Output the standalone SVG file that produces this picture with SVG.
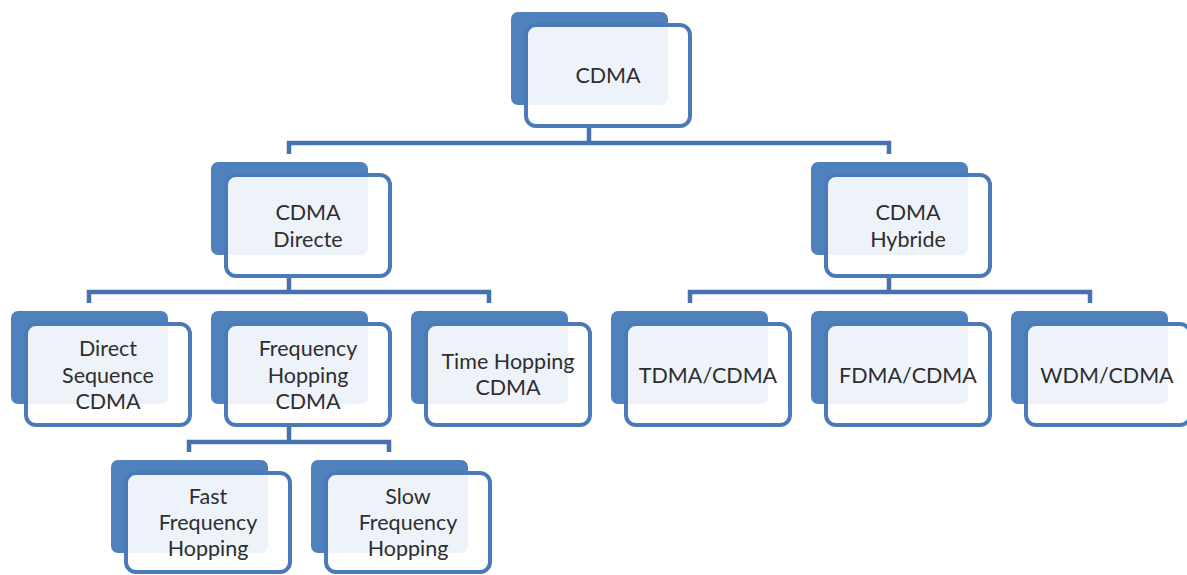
<svg xmlns="http://www.w3.org/2000/svg" width="1187" height="575" viewBox="0 0 1187 575">
<style>
.back{fill:#4F81BD}
.front{fill:#FFFFFF;fill-opacity:0.9;stroke:#4A7BB8;stroke-width:4}
.conn{fill:none;stroke:#4672B0;stroke-width:4.5;stroke-linejoin:miter}
text{font-family:Lato,"Open Sans","Liberation Sans",sans-serif;font-size:21.5px;fill:#2E2E2E;text-anchor:middle}
</style>
<rect width="1187" height="575" fill="#FFFFFF"/>
<g id="connectors">
<path class="conn" d="M289,154 V143 H889 V154 M589,127 V143"/>
<path class="conn" d="M89,303 V292 H489 V303 M289,277 V292"/>
<path class="conn" d="M690,303 V292 H1090 V303 M889,277 V292"/>
<path class="conn" d="M189,452 V442 H389 V452 M289,426 V442"/>
</g>
<g id="node-cdma">
<rect class="back" x="511" y="12" width="157" height="93" rx="7"/>
<rect class="front" x="526" y="25" width="164" height="101" rx="10"/>
<text x="608" y="83">CDMA</text>
</g>
<g id="node-directe">
<rect class="back" x="211" y="162" width="157" height="93" rx="7"/>
<rect class="front" x="226" y="175" width="164" height="101" rx="10"/>
<text x="308" y="220">CDMA</text>
<text x="308" y="247">Directe</text>
</g>
<g id="node-hybride">
<rect class="back" x="811" y="162" width="157" height="93" rx="7"/>
<rect class="front" x="826" y="175" width="164" height="101" rx="10"/>
<text x="908" y="220">CDMA</text>
<text x="908" y="247">Hybride</text>
</g>
<g id="node-ds">
<rect class="back" x="11" y="311" width="157" height="93" rx="7"/>
<rect class="front" x="26" y="324" width="164" height="101" rx="10"/>
<text x="108" y="356">Direct</text>
<text x="108" y="383">Sequence</text>
<text x="108" y="409">CDMA</text>
</g>
<g id="node-fh">
<rect class="back" x="211" y="311" width="157" height="93" rx="7"/>
<rect class="front" x="226" y="324" width="164" height="101" rx="10"/>
<text x="308" y="356">Frequency</text>
<text x="308" y="383">Hopping</text>
<text x="308" y="409">CDMA</text>
</g>
<g id="node-th">
<rect class="back" x="411" y="311" width="157" height="93" rx="7"/>
<rect class="front" x="426" y="324" width="164" height="101" rx="10"/>
<text x="508" y="369">Time Hopping</text>
<text x="508" y="395">CDMA</text>
</g>
<g id="node-tdma">
<rect class="back" x="611" y="311" width="157" height="93" rx="7"/>
<rect class="front" x="626" y="324" width="164" height="101" rx="10"/>
<text x="708" y="383">TDMA/CDMA</text>
</g>
<g id="node-fdma">
<rect class="back" x="811" y="311" width="157" height="93" rx="7"/>
<rect class="front" x="826" y="324" width="164" height="101" rx="10"/>
<text x="908" y="383">FDMA/CDMA</text>
</g>
<g id="node-wdm">
<rect class="back" x="1011" y="311" width="157" height="93" rx="7"/>
<rect class="front" x="1026" y="324" width="164" height="101" rx="10"/>
<text x="1107" y="383">WDM/CDMA</text>
</g>
<g id="node-ffh">
<rect class="back" x="111" y="460" width="157" height="93" rx="7"/>
<rect class="front" x="126" y="473" width="164" height="99" rx="10"/>
<text x="208" y="504">Fast</text>
<text x="208" y="530">Frequency</text>
<text x="208" y="556">Hopping</text>
</g>
<g id="node-sfh">
<rect class="back" x="311" y="460" width="157" height="93" rx="7"/>
<rect class="front" x="326" y="473" width="164" height="99" rx="10"/>
<text x="408" y="504">Slow</text>
<text x="408" y="530">Frequency</text>
<text x="408" y="556">Hopping</text>
</g>
</svg>
